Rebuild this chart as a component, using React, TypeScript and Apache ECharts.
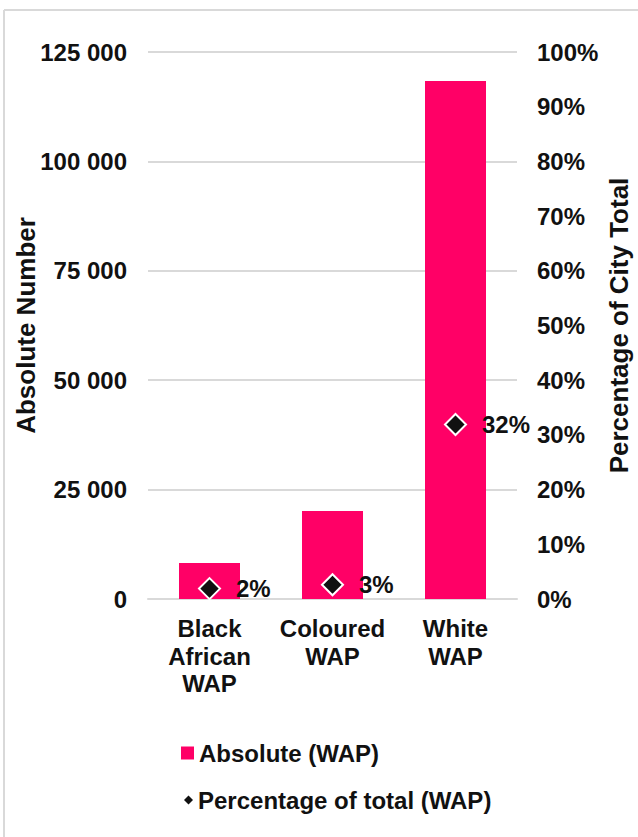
import React, { useEffect, useRef } from "react";
import * as echarts from "echarts";

const categories = ["Black\nAfrican\nWAP", "Coloured\nWAP", "White\nWAP"];
const absoluteValues = [8200, 20100, 118400];
const percentValues = [1.9, 2.6, 31.9];
const leftTicks = { min: 0, max: 125000, interval: 25000 };
const rightTicks = { min: 0, max: 100, interval: 10 };
const seriesNames = ["Absolute (WAP)", "Percentage of total (WAP)"];

const FONT = '"Liberation Sans", Arial, sans-serif';
const TEXT = "#111111";
const PINK = "#FF0066";
const GRID = "#d9d9d9";

function fmtThousands(v: number): string {
  return String(v).replace(/\B(?=(\d{3})+(?!\d))/g, " ");
}

export default function App() {
  const ref = useRef<HTMLDivElement>(null);
  useEffect(() => {
    if (!ref.current) return;
    const chart = echarts.init(ref.current, undefined, { renderer: "svg" });
    const textStyle = { fontFamily: FONT, fontWeight: "bold" as const, color: TEXT, fontSize: 24 };
    chart.setOption({
      animation: false,
      backgroundColor: "#ffffff",
      textStyle: { fontFamily: FONT },
      grid: { left: 148, right: 121, top: 52, bottom: 238, containLabel: false, outerBoundsMode: "none" },
      graphic: [
        { type: "line", shape: { x1: 4, y1: 10, x2: 638, y2: 10 }, style: { stroke: GRID, lineWidth: 2 } },
        { type: "line", shape: { x1: 4, y1: 10, x2: 4, y2: 837 }, style: { stroke: GRID, lineWidth: 2 } },
      ],
      legend: [
        {
          data: [seriesNames[0]],
          left: 181,
          top: 741,
          padding: 0,
          itemWidth: 13,
          itemHeight: 13,
          icon: "rect",
          textStyle: { ...textStyle },
        },
        {
          data: [seriesNames[1]],
          left: 184,
          top: 788,
          padding: 0,
          itemWidth: 9,
          itemHeight: 9,
          icon: "diamond",
          itemStyle: { color: TEXT, borderWidth: 0, opacity: 1 },
          textStyle: { ...textStyle },
        },
      ],
      xAxis: {
        type: "category",
        data: categories,
        axisLine: { show: true, lineStyle: { color: GRID, width: 2 } },
        axisTick: { show: false },
        axisLabel: { ...textStyle, margin: 16, lineHeight: 27.5, interval: 0 },
      },
      yAxis: [
        {
          type: "value",
          min: leftTicks.min,
          max: leftTicks.max,
          interval: leftTicks.interval,
          name: "Absolute Number",
          nameLocation: "middle",
          nameRotate: 90,
          nameGap: 109,
          nameMoveOverlap: false,
          nameTextStyle: { ...textStyle, fontSize: 26 },
          axisLine: { show: false },
          axisTick: { show: false },
          splitLine: { show: true, lineStyle: { color: GRID, width: 2 } },
          axisLabel: { ...textStyle, margin: 21, formatter: (v: number) => fmtThousands(v) },
        },
        {
          type: "value",
          min: rightTicks.min,
          max: rightTicks.max,
          interval: rightTicks.interval,
          position: "right",
          name: "Percentage of City Total",
          nameLocation: "middle",
          nameRotate: 90,
          nameGap: 89,
          nameMoveOverlap: false,
          nameTextStyle: { ...textStyle, fontSize: 26 },
          axisLine: { show: false },
          axisTick: { show: false },
          splitLine: { show: false },
          axisLabel: { ...textStyle, margin: 20, formatter: "{value}%" },
        },
      ],
      series: [
        {
          name: seriesNames[0],
          type: "bar",
          data: absoluteValues,
          yAxisIndex: 0,
          barWidth: 61,
          itemStyle: { color: PINK },
        },
        {
          name: seriesNames[1],
          type: "scatter",
          data: percentValues,
          yAxisIndex: 1,
          symbol: "diamond",
          symbolSize: 21,
          itemStyle: { color: TEXT, borderColor: "#ffffff", borderWidth: 2, opacity: 1 },
          label: {
            show: true,
            position: "right",
            distance: 15,
            ...textStyle,
            formatter: (p: any) => Math.round(p.value) + "%",
          },
          z: 5,
        },
      ],
    });
    return () => chart.dispose();
  }, []);
  return (
    <div
      ref={ref}
      style={{ position: "fixed", left: 0, top: 0, width: 638, height: 837, background: "#fff" }}
    />
  );
}
